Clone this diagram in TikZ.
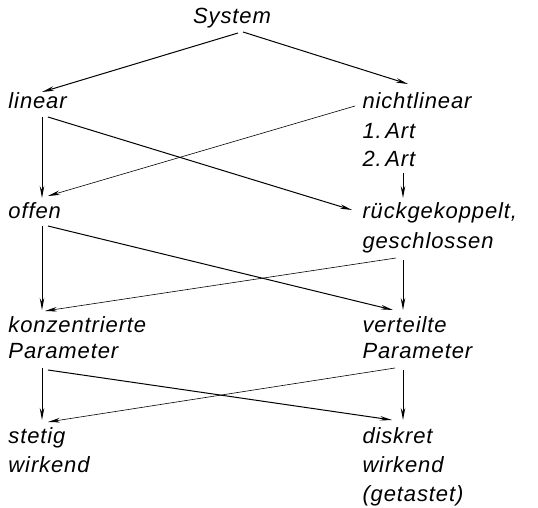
\documentclass[tikz,border=0pt]{standalone}
\usepackage{fontspec}
\setmainfont{Liberation Sans}[LetterSpace=4]
\usetikzlibrary{arrows.meta, positioning}

\begin{document}
\begin{tikzpicture}[x=1pt,y=-1pt,->,>={Stealth[length=12pt,width=4.5pt]},line width=1pt,
  word/.style={font=\itshape\fontsize{22}{26}\selectfont,inner sep=0pt,anchor=base west},
  thin line/.style={line width=0.6pt}]
  \useasboundingbox (0,0) rectangle (538,508);

  \node[word,anchor=base] (sys) at (232,24) {System};

  \node[word] (lin) at (8,109) {linear};
  \node[word] (nl) at (362,109) {nichtlinear};
  \node[word] (art1) at (362,139) {1.\,Art};
  \node[word] (art2) at (362,166) {2.\,Art};

  \node[word] (off) at (8,218) {offen};
  \node[word] (rue) at (362,218) {rückgekoppelt,};
  \node[word] (ges) at (362,248) {geschlossen};

  \node[word] (konz) at (8,332) {konzentrierte};
  \node[word] (parl) at (8,358) {Parameter};
  \node[word] (vert) at (362,332) {verteilte};
  \node[word] (parr) at (362,358) {Parameter};

  \node[word] (ste) at (8,443) {stetig};
  \node[word] (wirl) at (8,472) {wirkend};
  \node[word] (dis) at (362,443) {diskret};
  \node[word] (wirr) at (362,472) {wirkend};
  \node[word] (get) at (362,501) {(getastet)};

  % System
  \draw ([shift={(6pt,-9pt)}]sys.base) -- ([shift={(34pt,17pt)}]lin.base west);
  \draw ([shift={(11pt,-8pt)}]sys.base) -- ([shift={(46pt,25pt)}]nl.base west);

  % linear / nichtlinear
  \draw ([shift={(34pt,-8pt)}]lin.base west) -- ([shift={(34pt,20pt)}]off.base west);
  \draw ([shift={(40pt,-8pt)}]lin.base west) -- ([shift={(-10pt,8pt)}]rue.base west);
  \draw[thin line] ([shift={(-7pt,3pt)}]nl.base west) -- ([shift={(40pt,22pt)}]off.base west);
  \draw ([shift={(41pt,-7pt)}]art2.base west) -- ([shift={(41pt,20pt)}]rue.base west);

  % offen / rueckgekoppelt
  \draw ([shift={(34pt,-8pt)}]off.base west) -- ([shift={(34pt,22pt)}]konz.base west);
  \draw ([shift={(40pt,-8pt)}]off.base west) -- ([shift={(31pt,22pt)}]vert.base west);
  \draw[thin line] ([shift={(34pt,-10pt)}]ges.base west) -- ([shift={(37pt,21pt)}]konz.base west);
  \draw ([shift={(41pt,-12pt)}]ges.base west) -- ([shift={(41pt,22pt)}]vert.base west);

  % Parameter
  \draw ([shift={(34pt,-10pt)}]parl.base west) -- ([shift={(34pt,23pt)}]ste.base west);
  \draw ([shift={(40pt,-12pt)}]parl.base west) -- ([shift={(30pt,23pt)}]dis.base west);
  \draw[thin line] ([shift={(33pt,-10pt)}]parr.base west) -- ([shift={(40pt,21pt)}]ste.base west);
  \draw ([shift={(41pt,-12pt)}]parr.base west) -- ([shift={(41pt,23pt)}]dis.base west);
\end{tikzpicture}
\end{document}
